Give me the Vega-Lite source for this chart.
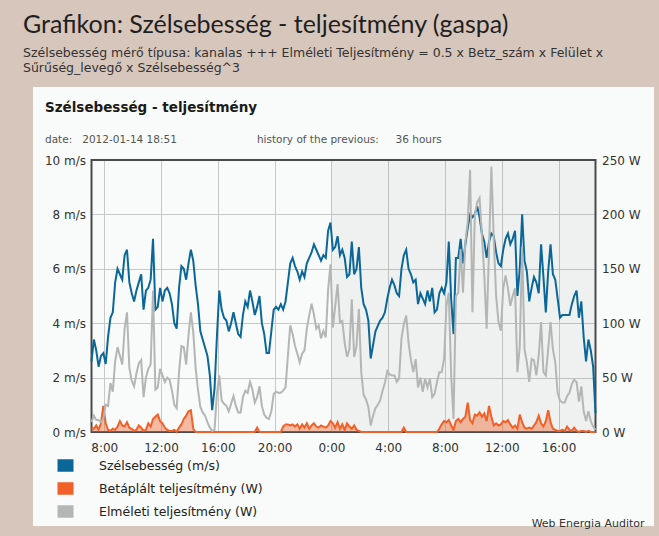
{
  "$schema": "https://vega.github.io/schema/vega-lite/v6.json",
  "background": "#d7c6bb",
  "padding": {"left": 23, "top": 12, "right": 5, "bottom": 8},
  "title": {
    "text": "Grafikon: Szélsebesség - teljesítmény (gaspa)",
    "subtitle": ["Szélsebesség mérő típusa: kanalas +++ Elméleti Teljesítmény = 0.5 x Betz_szám x Felület x", "Sűrűség_levegő x Szélsebesség^3"],
    "anchor": "start",
    "frame": "group",
    "dx": -10,
    "offset": 13,
    "font": "Lato",
    "fontSize": 25,
    "fontWeight": "normal",
    "color": "#1f1f1f",
    "subtitleFont": "DejaVu Sans",
    "subtitleFontSize": 12.5,
    "subtitleColor": "#333333",
    "subtitleLineHeight": 15,
    "subtitlePadding": 9
  },
  "vconcat": [
    {
      "width": 621,
      "height": 439,
      "view": {"fill": "#f8fbf9", "stroke": null},
      "title": {
        "text": "Szélsebesség - teljesítmény",
        "subtitle": "date:\u00a0\u00a0\u00a02012-01-14 18:51\u00a0\u00a0\u00a0\u00a0\u00a0\u00a0\u00a0\u00a0\u00a0\u00a0\u00a0\u00a0\u00a0\u00a0\u00a0\u00a0\u00a0\u00a0\u00a0\u00a0\u00a0\u00a0\u00a0\u00a0history of the previous:\u00a0\u00a0\u00a0\u00a0\u00a036 hours",
        "anchor": "start",
        "frame": "group",
        "dx": 12,
        "offset": -58,
        "font": "DejaVu Sans",
        "fontSize": 13.5,
        "fontWeight": "bold",
        "color": "#1a1a1a",
        "subtitleFont": "DejaVu Sans",
        "subtitleFontSize": 10.5,
        "subtitleColor": "#555555",
        "subtitlePadding": 20
      },
      "data": {"values": [
{"t":"2012-01-13T07:06","s":2.6,"e":9,"p":4},
{"t":"2012-01-13T07:16","s":3.4,"e":15,"p":3},
{"t":"2012-01-13T07:26","s":3.0,"e":11,"p":6},
{"t":"2012-01-13T07:36","s":2.4,"e":11,"p":2},
{"t":"2012-01-13T07:46","s":2.8,"e":9,"p":8},
{"t":"2012-01-13T07:56","s":2.9,"e":12,"p":24},
{"t":"2012-01-13T08:06","s":2.5,"e":25,"p":8},
{"t":"2012-01-13T08:16","s":3.5,"e":24,"p":2},
{"t":"2012-01-13T08:26","s":4.2,"e":45,"p":1},
{"t":"2012-01-13T08:36","s":4.4,"e":37,"p":3},
{"t":"2012-01-13T08:46","s":5.5,"e":65,"p":2},
{"t":"2012-01-13T08:56","s":6.0,"e":78,"p":5},
{"t":"2012-01-13T09:06","s":5.8,"e":70,"p":10},
{"t":"2012-01-13T09:16","s":5.6,"e":62,"p":6},
{"t":"2012-01-13T09:26","s":6.5,"e":95,"p":5},
{"t":"2012-01-13T09:36","s":6.7,"e":110,"p":9},
{"t":"2012-01-13T09:46","s":5.5,"e":59,"p":4},
{"t":"2012-01-13T09:56","s":5.1,"e":47,"p":3},
{"t":"2012-01-13T10:06","s":4.8,"e":42,"p":1},
{"t":"2012-01-13T10:16","s":5.2,"e":54,"p":2},
{"t":"2012-01-13T10:26","s":5.5,"e":63,"p":6},
{"t":"2012-01-13T10:36","s":5.8,"e":66,"p":4},
{"t":"2012-01-13T10:46","s":4.5,"e":32,"p":1},
{"t":"2012-01-13T10:56","s":5.2,"e":50,"p":2},
{"t":"2012-01-13T11:06","s":5.3,"e":58,"p":8},
{"t":"2012-01-13T11:16","s":5.6,"e":62,"p":5},
{"t":"2012-01-13T11:26","s":7.1,"e":130,"p":12},
{"t":"2012-01-13T11:36","s":4.5,"e":39,"p":14},
{"t":"2012-01-13T11:46","s":4.6,"e":41,"p":16},
{"t":"2012-01-13T11:56","s":5.3,"e":58,"p":10},
{"t":"2012-01-13T12:06","s":4.8,"e":52,"p":8},
{"t":"2012-01-13T12:16","s":5.2,"e":46,"p":4},
{"t":"2012-01-13T12:26","s":5.3,"e":50,"p":2},
{"t":"2012-01-13T12:36","s":5.1,"e":48,"p":1},
{"t":"2012-01-13T12:46","s":4.7,"e":38,"p":1},
{"t":"2012-01-13T12:56","s":4.0,"e":25,"p":2},
{"t":"2012-01-13T13:06","s":3.8,"e":22,"p":0},
{"t":"2012-01-13T13:16","s":5.3,"e":55,"p":4},
{"t":"2012-01-13T13:26","s":6.1,"e":79,"p":7},
{"t":"2012-01-13T13:36","s":6.0,"e":78,"p":12},
{"t":"2012-01-13T13:46","s":5.6,"e":62,"p":15},
{"t":"2012-01-13T13:56","s":6.2,"e":89,"p":19},
{"t":"2012-01-13T14:06","s":6.7,"e":110,"p":20},
{"t":"2012-01-13T14:16","s":6.3,"e":92,"p":3},
{"t":"2012-01-13T14:26","s":5.4,"e":59,"p":0},
{"t":"2012-01-13T14:36","s":4.7,"e":39,"p":0},
{"t":"2012-01-13T14:46","s":3.7,"e":23,"p":0},
{"t":"2012-01-13T14:56","s":3.4,"e":18,"p":0},
{"t":"2012-01-13T15:06","s":3.1,"e":15,"p":0},
{"t":"2012-01-13T15:16","s":2.8,"e":9,"p":0},
{"t":"2012-01-13T15:26","s":2.1,"e":4,"p":0},
{"t":"2012-01-13T15:36","s":0.8,"e":1,"p":0},
{"t":"2012-01-13T15:46","s":1.6,"e":2,"p":0},
{"t":"2012-01-13T15:56","s":3.5,"e":35,"p":0},
{"t":"2012-01-13T16:06","s":5.2,"e":52,"p":0},
{"t":"2012-01-13T16:16","s":4.5,"e":29,"p":0},
{"t":"2012-01-13T16:26","s":4.2,"e":26,"p":0},
{"t":"2012-01-13T16:36","s":4.1,"e":24,"p":0},
{"t":"2012-01-13T16:46","s":3.7,"e":19,"p":0},
{"t":"2012-01-13T16:56","s":4.0,"e":26,"p":0},
{"t":"2012-01-13T17:06","s":4.4,"e":33,"p":0},
{"t":"2012-01-13T17:16","s":4.0,"e":24,"p":0},
{"t":"2012-01-13T17:26","s":3.6,"e":18,"p":0},
{"t":"2012-01-13T17:36","s":3.5,"e":18,"p":0},
{"t":"2012-01-13T17:46","s":4.3,"e":32,"p":0},
{"t":"2012-01-13T17:56","s":4.8,"e":38,"p":0},
{"t":"2012-01-13T18:06","s":4.6,"e":36,"p":0},
{"t":"2012-01-13T18:16","s":5.2,"e":46,"p":0},
{"t":"2012-01-13T18:26","s":4.8,"e":39,"p":0},
{"t":"2012-01-13T18:36","s":4.3,"e":27,"p":0},
{"t":"2012-01-13T18:46","s":4.6,"e":32,"p":4},
{"t":"2012-01-13T18:56","s":5.0,"e":42,"p":0},
{"t":"2012-01-13T19:06","s":4.0,"e":24,"p":0},
{"t":"2012-01-13T19:16","s":3.6,"e":16,"p":0},
{"t":"2012-01-13T19:26","s":2.9,"e":13,"p":0},
{"t":"2012-01-13T19:36","s":2.9,"e":12,"p":0},
{"t":"2012-01-13T19:46","s":3.7,"e":19,"p":0},
{"t":"2012-01-13T19:56","s":4.5,"e":35,"p":0},
{"t":"2012-01-13T20:06","s":4.6,"e":37,"p":0},
{"t":"2012-01-13T20:16","s":4.5,"e":36,"p":0},
{"t":"2012-01-13T20:26","s":4.7,"e":36,"p":0},
{"t":"2012-01-13T20:36","s":4.5,"e":38,"p":5},
{"t":"2012-01-13T20:46","s":4.8,"e":41,"p":7},
{"t":"2012-01-13T20:56","s":5.5,"e":70,"p":7},
{"t":"2012-01-13T21:06","s":6.2,"e":98,"p":6},
{"t":"2012-01-13T21:16","s":6.4,"e":90,"p":7},
{"t":"2012-01-13T21:26","s":6.1,"e":79,"p":5},
{"t":"2012-01-13T21:36","s":5.9,"e":72,"p":7},
{"t":"2012-01-13T21:46","s":5.6,"e":64,"p":3},
{"t":"2012-01-13T21:56","s":5.9,"e":72,"p":7},
{"t":"2012-01-13T22:06","s":5.7,"e":75,"p":4},
{"t":"2012-01-13T22:16","s":6.2,"e":95,"p":8},
{"t":"2012-01-13T22:26","s":6.4,"e":107,"p":3},
{"t":"2012-01-13T22:36","s":6.6,"e":118,"p":6},
{"t":"2012-01-13T22:46","s":6.9,"e":108,"p":8},
{"t":"2012-01-13T22:56","s":6.7,"e":95,"p":5},
{"t":"2012-01-13T23:06","s":6.5,"e":98,"p":4},
{"t":"2012-01-13T23:16","s":6.3,"e":86,"p":6},
{"t":"2012-01-13T23:26","s":6.5,"e":93,"p":5},
{"t":"2012-01-13T23:36","s":6.4,"e":87,"p":4},
{"t":"2012-01-13T23:46","s":7.4,"e":131,"p":6},
{"t":"2012-01-13T23:56","s":7.7,"e":154,"p":10},
{"t":"2012-01-14T00:06","s":6.7,"e":96,"p":8},
{"t":"2012-01-14T00:16","s":6.8,"e":116,"p":4},
{"t":"2012-01-14T00:26","s":7.2,"e":136,"p":9},
{"t":"2012-01-14T00:36","s":6.5,"e":101,"p":3},
{"t":"2012-01-14T00:46","s":6.7,"e":102,"p":7},
{"t":"2012-01-14T00:56","s":6.4,"e":82,"p":2},
{"t":"2012-01-14T01:06","s":5.7,"e":69,"p":8},
{"t":"2012-01-14T01:16","s":5.8,"e":76,"p":5},
{"t":"2012-01-14T01:26","s":7.0,"e":122,"p":3},
{"t":"2012-01-14T01:36","s":5.8,"e":69,"p":6},
{"t":"2012-01-14T01:46","s":6.0,"e":79,"p":2},
{"t":"2012-01-14T01:56","s":6.8,"e":113,"p":1},
{"t":"2012-01-14T02:06","s":5.3,"e":55,"p":0},
{"t":"2012-01-14T02:16","s":4.7,"e":34,"p":0},
{"t":"2012-01-14T02:26","s":4.5,"e":30,"p":0},
{"t":"2012-01-14T02:36","s":4.1,"e":23,"p":0},
{"t":"2012-01-14T02:46","s":2.7,"e":6,"p":0},
{"t":"2012-01-14T02:56","s":3.2,"e":15,"p":0},
{"t":"2012-01-14T03:06","s":3.7,"e":22,"p":0},
{"t":"2012-01-14T03:16","s":3.9,"e":25,"p":0},
{"t":"2012-01-14T03:26","s":4.1,"e":29,"p":0},
{"t":"2012-01-14T03:36","s":4.2,"e":38,"p":0},
{"t":"2012-01-14T03:46","s":4.4,"e":45,"p":0},
{"t":"2012-01-14T03:56","s":4.9,"e":56,"p":0},
{"t":"2012-01-14T04:06","s":5.3,"e":53,"p":0},
{"t":"2012-01-14T04:16","s":5.6,"e":52,"p":0},
{"t":"2012-01-14T04:26","s":5.4,"e":52,"p":0},
{"t":"2012-01-14T04:36","s":5.1,"e":46,"p":0},
{"t":"2012-01-14T04:46","s":5.0,"e":49,"p":0},
{"t":"2012-01-14T04:56","s":6.0,"e":86,"p":0},
{"t":"2012-01-14T05:06","s":6.5,"e":99,"p":4},
{"t":"2012-01-14T05:16","s":6.7,"e":107,"p":0},
{"t":"2012-01-14T05:26","s":6.0,"e":82,"p":0},
{"t":"2012-01-14T05:36","s":5.8,"e":66,"p":0},
{"t":"2012-01-14T05:46","s":5.5,"e":55,"p":0},
{"t":"2012-01-14T05:56","s":5.6,"e":67,"p":0},
{"t":"2012-01-14T06:06","s":4.7,"e":41,"p":0},
{"t":"2012-01-14T06:16","s":5.1,"e":50,"p":0},
{"t":"2012-01-14T06:26","s":4.9,"e":37,"p":0},
{"t":"2012-01-14T06:36","s":4.7,"e":49,"p":0},
{"t":"2012-01-14T06:46","s":5.2,"e":41,"p":0},
{"t":"2012-01-14T06:56","s":4.8,"e":49,"p":0},
{"t":"2012-01-14T07:06","s":5.3,"e":32,"p":0},
{"t":"2012-01-14T07:16","s":4.4,"e":35,"p":0},
{"t":"2012-01-14T07:26","s":4.5,"e":46,"p":0},
{"t":"2012-01-14T07:36","s":5.1,"e":55,"p":3},
{"t":"2012-01-14T07:46","s":5.3,"e":55,"p":7},
{"t":"2012-01-14T07:56","s":5.1,"e":67,"p":10},
{"t":"2012-01-14T08:06","s":5.5,"e":116,"p":9},
{"t":"2012-01-14T08:16","s":7.0,"e":128,"p":11},
{"t":"2012-01-14T08:26","s":4.9,"e":52,"p":6},
{"t":"2012-01-14T08:36","s":3.6,"e":12,"p":2},
{"t":"2012-01-14T08:46","s":6.4,"e":125,"p":10},
{"t":"2012-01-14T08:56","s":6.4,"e":128,"p":12},
{"t":"2012-01-14T09:06","s":7.1,"e":168,"p":9},
{"t":"2012-01-14T09:16","s":6.2,"e":128,"p":12},
{"t":"2012-01-14T09:26","s":6.9,"e":175,"p":14},
{"t":"2012-01-14T09:36","s":7.5,"e":193,"p":27},
{"t":"2012-01-14T09:46","s":8.0,"e":241,"p":11},
{"t":"2012-01-14T09:56","s":7.9,"e":110,"p":8},
{"t":"2012-01-14T10:06","s":8.0,"e":199,"p":16},
{"t":"2012-01-14T10:16","s":8.3,"e":211,"p":15},
{"t":"2012-01-14T10:26","s":7.9,"e":215,"p":18},
{"t":"2012-01-14T10:36","s":7.3,"e":181,"p":14},
{"t":"2012-01-14T10:46","s":7.0,"e":144,"p":17},
{"t":"2012-01-14T10:56","s":6.4,"e":95,"p":10},
{"t":"2012-01-14T11:06","s":7.0,"e":168,"p":24},
{"t":"2012-01-14T11:16","s":7.3,"e":244,"p":14},
{"t":"2012-01-14T11:26","s":7.2,"e":178,"p":6},
{"t":"2012-01-14T11:36","s":6.6,"e":125,"p":8},
{"t":"2012-01-14T11:46","s":6.2,"e":101,"p":6},
{"t":"2012-01-14T11:56","s":6.1,"e":93,"p":7},
{"t":"2012-01-14T12:06","s":6.7,"e":132,"p":10},
{"t":"2012-01-14T12:16","s":7.1,"e":144,"p":9},
{"t":"2012-01-14T12:26","s":7.3,"e":132,"p":11},
{"t":"2012-01-14T12:36","s":6.9,"e":116,"p":7},
{"t":"2012-01-14T12:46","s":7.1,"e":125,"p":4},
{"t":"2012-01-14T12:56","s":7.4,"e":132,"p":6},
{"t":"2012-01-14T13:06","s":5.0,"e":55,"p":3},
{"t":"2012-01-14T13:16","s":6.0,"e":79,"p":16},
{"t":"2012-01-14T13:26","s":8.0,"e":170,"p":9},
{"t":"2012-01-14T13:36","s":6.3,"e":76,"p":4},
{"t":"2012-01-14T13:46","s":5.9,"e":64,"p":3},
{"t":"2012-01-14T13:56","s":4.8,"e":46,"p":4},
{"t":"2012-01-14T14:06","s":5.3,"e":67,"p":3},
{"t":"2012-01-14T14:16","s":5.7,"e":66,"p":6},
{"t":"2012-01-14T14:26","s":5.5,"e":52,"p":9},
{"t":"2012-01-14T14:36","s":5.1,"e":70,"p":15},
{"t":"2012-01-14T14:46","s":6.9,"e":101,"p":8},
{"t":"2012-01-14T14:56","s":5.7,"e":55,"p":5},
{"t":"2012-01-14T15:06","s":4.4,"e":52,"p":10},
{"t":"2012-01-14T15:16","s":5.9,"e":76,"p":20},
{"t":"2012-01-14T15:26","s":6.9,"e":101,"p":9},
{"t":"2012-01-14T15:36","s":5.8,"e":76,"p":3},
{"t":"2012-01-14T15:46","s":5.6,"e":64,"p":2},
{"t":"2012-01-14T15:56","s":4.9,"e":36,"p":1},
{"t":"2012-01-14T16:06","s":4.2,"e":29,"p":1},
{"t":"2012-01-14T16:16","s":4.3,"e":27,"p":2},
{"t":"2012-01-14T16:26","s":4.3,"e":27,"p":1},
{"t":"2012-01-14T16:36","s":4.3,"e":33,"p":5},
{"t":"2012-01-14T16:46","s":4.3,"e":36,"p":2},
{"t":"2012-01-14T16:56","s":4.7,"e":44,"p":1},
{"t":"2012-01-14T17:06","s":5.0,"e":48,"p":4},
{"t":"2012-01-14T17:16","s":5.2,"e":46,"p":1},
{"t":"2012-01-14T17:26","s":4.2,"e":28,"p":0},
{"t":"2012-01-14T17:36","s":4.8,"e":42,"p":1},
{"t":"2012-01-14T17:46","s":3.5,"e":19,"p":1},
{"t":"2012-01-14T17:56","s":2.6,"e":10,"p":0},
{"t":"2012-01-14T18:06","s":3.4,"e":19,"p":1},
{"t":"2012-01-14T18:16","s":3.0,"e":10,"p":0},
{"t":"2012-01-14T18:26","s":2.4,"e":5,"p":0},
{"t":"2012-01-14T18:36","s":0.7,"e":2,"p":0}
      ]},
      "layer": [
        {
          "encoding": {
            "x": {
              "field": "t", "type": "temporal",
              "scale": {"domain": [{"year": 2012, "month": 1, "date": 13, "hours": 7, "minutes": 6}, {"year": 2012, "month": 1, "date": 14, "hours": 18, "minutes": 36}], "range": [58.5, 562.5], "nice": false},
              "axis": {
                "orient": "bottom", "offset": -94,
                "values": [
                  {"year": 2012, "month": 1, "date": 13, "hours": 8},
                  {"year": 2012, "month": 1, "date": 13, "hours": 12},
                  {"year": 2012, "month": 1, "date": 13, "hours": 16},
                  {"year": 2012, "month": 1, "date": 13, "hours": 20},
                  {"year": 2012, "month": 1, "date": 14, "hours": 0},
                  {"year": 2012, "month": 1, "date": 14, "hours": 4},
                  {"year": 2012, "month": 1, "date": 14, "hours": 8},
                  {"year": 2012, "month": 1, "date": 14, "hours": 12},
                  {"year": 2012, "month": 1, "date": 14, "hours": 16}
                ],
                "format": "%-H:%M", "grid": false, "labelPadding": 10,
                "labelFlush": false, "labelOverlap": false,
                "title": "Web Energia Auditor", "titleX": 611, "titleY": 94,
                "titleAlign": "right", "titleAnchor": "end", "titleBaseline": "alphabetic",
                "titleFont": "DejaVu Sans", "titleFontSize": 11, "titleFontWeight": "normal", "titleColor": "#333333"
              }
            }
          },
          "layer": [
            {
              "data": {"values": [{"start": "2012-01-14T00:00", "end": "2012-01-14T18:36"}]},
              "mark": {"type": "rect", "color": "#000000", "opacity": 0.04},
              "encoding": {
                "x": {"field": "start", "type": "temporal"},
                "x2": {"field": "end"},
                "y": {"datum": 0},
                "y2": {"datum": 10}
              }
            },
            {
              "data": {"values": [{"start": "2012-01-13T07:06", "end": "2012-01-14T18:36"}]},
              "mark": {"type": "rect", "filled": false, "color": "#4a4a4a", "strokeWidth": 2},
              "encoding": {
                "x": {"field": "start", "type": "temporal"},
                "x2": {"field": "end"},
                "y": {"datum": 0},
                "y2": {"datum": 10}
              }
            },
            {
              "mark": {"type": "line", "strokeWidth": 2},
              "encoding": {
                "y": {
                  "field": "s", "type": "quantitative",
                  "scale": {"domain": [0, 10], "range": [345, 73], "nice": false},
                  "axis": {"orient": "left", "offset": -58.5, "values": [0, 2, 4, 6, 8, 10], "labelExpr": "datum.value + ' m/s'", "grid": false, "labelPadding": 6, "title": null}
                },
                "color": {
                  "datum": "Szélsebesség (m/s)", "type": "nominal",
                  "scale": {"domain": ["Szélsebesség (m/s)", "Betáplált teljesítmény (W)", "Elméleti teljesítmény (W)"], "range": ["#0b6799", "#f06028", "#b4b6b5"]},
                  "legend": {
                    "title": null, "orient": "none", "legendX": 23, "legendY": 369, "direction": "vertical",
                    "symbolType": "M-1,-0.6H1M-1,-0.3H1M-1,0H1M-1,0.3H1M-1,0.6H1", "symbolSize": 256, "symbolStrokeWidth": 3,
                    "labelFont": "DejaVu Sans", "labelFontSize": 12.5, "labelColor": "#222222",
                    "labelOffset": 24, "labelLimit": 300, "rowPadding": 0, "padding": 0
                  }
                }
              }
            }
          ]
        },
        {
          "encoding": {
            "x": {
              "field": "t", "type": "temporal",
              "scale": {"domain": [{"year": 2012, "month": 1, "date": 13, "hours": 7, "minutes": 6}, {"year": 2012, "month": 1, "date": 14, "hours": 18, "minutes": 36}], "range": [58.5, 562.5], "nice": false},
              "axis": {
                "orient": "top", "offset": -73, "grid": true, "labels": false, "title": null,
                "values": [
                  {"year": 2012, "month": 1, "date": 13, "hours": 8},
                  {"year": 2012, "month": 1, "date": 13, "hours": 12},
                  {"year": 2012, "month": 1, "date": 13, "hours": 16},
                  {"year": 2012, "month": 1, "date": 13, "hours": 20},
                  {"year": 2012, "month": 1, "date": 14, "hours": 0},
                  {"year": 2012, "month": 1, "date": 14, "hours": 4},
                  {"year": 2012, "month": 1, "date": 14, "hours": 8},
                  {"year": 2012, "month": 1, "date": 14, "hours": 12},
                  {"year": 2012, "month": 1, "date": 14, "hours": 16}
                ]
              }
            }
          },
          "layer": [
            {
              "mark": {"type": "area", "color": "#f06028", "fillOpacity": 0.42},
              "encoding": {
                "y": {
                  "field": "p", "type": "quantitative",
                  "scale": {"domain": [0, 250], "range": [345, 73], "nice": false},
                  "axis": {"orient": "right", "offset": -58.5, "values": [0, 50, 100, 150, 200, 250], "labelExpr": "datum.value + ' W'", "grid": true, "labelPadding": 6, "title": null}
                }
              }
            },
            {
              "mark": {"type": "line", "strokeWidth": 2},
              "encoding": {
                "y": {"field": "p", "type": "quantitative"},
                "color": {"datum": "Betáplált teljesítmény (W)", "type": "nominal"}
              }
            },
            {
              "mark": {"type": "line", "strokeWidth": 2},
              "encoding": {
                "y": {"field": "e", "type": "quantitative"},
                "color": {"datum": "Elméleti teljesítmény (W)", "type": "nominal"}
              }
            }
          ]
        }
      ],
      "resolve": {"scale": {"y": "independent"}, "axis": {"x": "independent"}}
    }
  ],
  "config": {
    "view": {"stroke": null},
    "axis": {
      "labelFont": "DejaVu Sans", "labelFontSize": 12, "labelColor": "#333333",
      "domain": false, "ticks": false, "tickSize": 0,
      "gridColor": "#c8c8c8", "gridWidth": 1, "gridOpacity": 1
    }
  }
}
